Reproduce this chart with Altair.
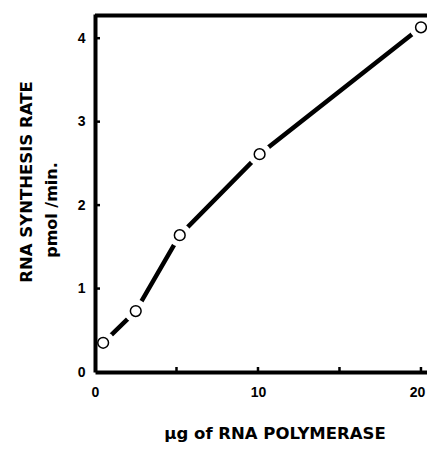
import altair as alt
import pandas as pd

# ---- data ----
enzyme_ug = [0.5, 2.5, 5.2, 10.1, 20.0]
synthesis_rate = [0.35, 0.73, 1.64, 2.61, 4.13]
x_ticks = [5, 10, 15, 20]
x_labels = [0, 10, 20]
y_ticks = [1, 2, 3, 4]
y_labels = [0, 1, 2, 3, 4]
x_title = "µg of RNA POLYMERASE"
y_title_1 = "RNA SYNTHESIS RATE"
y_title_2 = "pmol /min."

X_MAX = 20.37
Y_MAX = 4.29
W, H = 332, 358

df = pd.DataFrame({"x": enzyme_ug, "y": synthesis_rate})
xs = alt.Scale(domain=[0, X_MAX], nice=False, zero=False)
ys = alt.Scale(domain=[0, Y_MAX], nice=False)

ax_common = dict(
    title=None, domainWidth=4, domainColor="black", ticks=False, grid=False,
    labelFont="Liberation Sans", labelFontWeight="bold", labelFontSize=14,
    labelColor="black", zindex=1,
)
x_axis = alt.Axis(values=x_labels, labelFlush=False, labelPadding=13,
                  labelOffset={"condition": {"test": "datum.value == 20", "value": -4}, "value": 0},
                  **ax_common)
y_axis = alt.Axis(values=y_labels, labelPadding=10, **ax_common)

X = alt.X("x:Q", scale=xs, axis=x_axis)
Y = alt.Y("y:Q", scale=ys, axis=y_axis)

line = alt.Chart(df).mark_line(color="black", strokeWidth=4.5, strokeCap="butt").encode(x=X, y=Y)
halo = alt.Chart(df).mark_circle(color="white", size=540, opacity=1).encode(x=X, y=Y)
pts = alt.Chart(df).mark_point(shape="circle", filled=False, fill="white", fillOpacity=1,
                               stroke="black", strokeWidth=1.5, size=115, opacity=1).encode(x=X, y=Y)

ytick_df = pd.DataFrame({"y": y_ticks})
ytk = alt.Chart(ytick_df).mark_rule(color="black", strokeWidth=2.5).encode(
    y=Y, x=alt.value(0), x2=alt.value(5))
xtick_df = pd.DataFrame({"x": x_ticks})
xtk = alt.Chart(xtick_df).mark_rule(color="black", strokeWidth=2.5).encode(
    x=X, y=alt.value(H), y2=alt.value(H - 5))

top = alt.Chart(pd.DataFrame({"a": [0]})).mark_rule(color="black", strokeWidth=4).encode(
    x=alt.value(0), x2=alt.value(W), y=alt.value(1.5))

t1 = alt.Chart(pd.DataFrame({"t": [y_title_1]})).mark_text(
    angle=270, font="DejaVu Sans", fontWeight="bold", fontSize=16.5, color="black",
    align="center", baseline="middle").encode(text="t:N", x=alt.value(-68), y=alt.value(168))
t2 = alt.Chart(pd.DataFrame({"t": [y_title_2]})).mark_text(
    angle=270, font="DejaVu Sans", fontWeight="bold", fontSize=16, color="black",
    align="center", baseline="middle").encode(text="t:N", x=alt.value(-43), y=alt.value(196))
t3 = alt.Chart(pd.DataFrame({"t": [x_title]})).mark_text(
    font="DejaVu Sans", fontWeight="bold", fontSize=16.5, color="black",
    align="center", baseline="middle").encode(text="t:N", x=alt.value(180), y=alt.value(420))

chart = alt.layer(line, halo, pts, ytk, xtk, top, t1, t2, t3).properties(
    width=W, height=H,
    autosize=alt.AutoSizeParams(type="none"),
    padding={"left": 87, "top": 6, "right": 0, "bottom": 72},
).configure_view(stroke=None).configure(background="white")

chart.save("out.html", embed_options={"renderer": "svg", "actions": False})
